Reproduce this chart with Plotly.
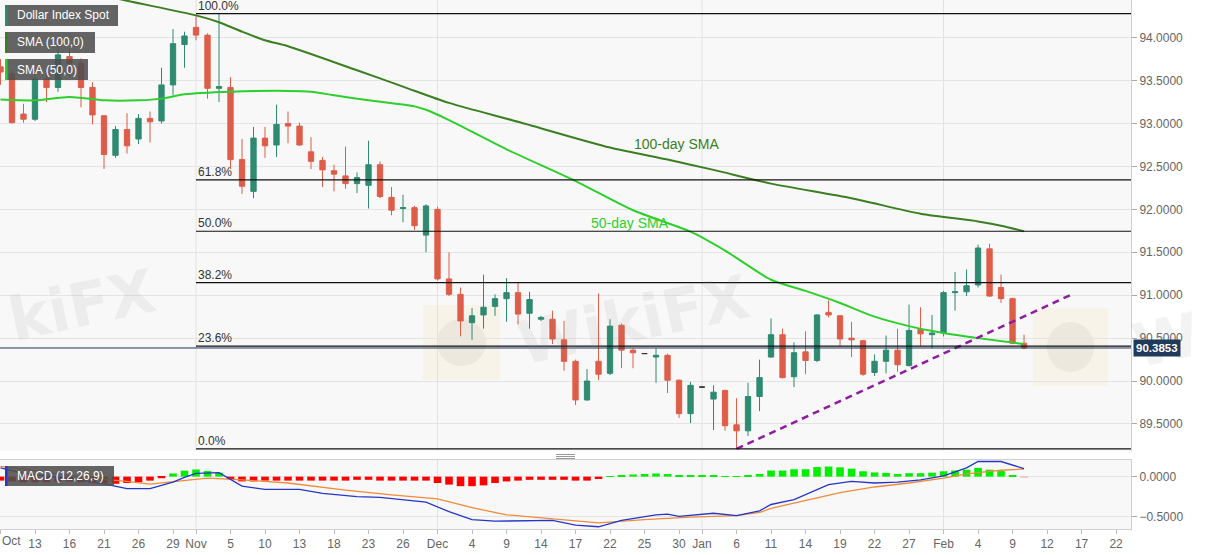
import numpy as np
import pandas as pd
import plotly.graph_objects as go

# ---------------- data ----------------
dates = pd.bdate_range("2020-10-08", "2021-02-10").strftime("%Y-%m-%d").tolist()

opens = [93.66, 93.58, 93.11, 93.05, 93.52, 93.42, 93.78, 93.70, 93.42, 93.09,
         92.63, 92.93, 92.82, 93.06, 93.03, 93.45, 93.92, 94.12, 94.03, 93.41,
         93.42, 92.58, 92.21, 92.83, 92.75, 93.00, 92.97, 92.67, 92.57, 92.45,
         92.39, 92.30, 92.28, 92.52, 92.14, 92.01, 92.02, 91.70, 92.00, 91.19,
         91.01, 90.68, 90.77, 90.87, 90.96, 91.03, 90.79, 90.72, 90.72, 90.48,
         90.23, 89.78, 90.23, 90.09, 90.65, 90.36, 90.32, 90.28, 90.30, 90.01,
         89.62, 89.93, 89.79, 89.89, 89.49, 89.42, 89.82, 90.28, 90.54, 90.05,
         90.34, 90.24, 90.80, 90.76, 90.50, 90.47, 90.10, 90.23, 90.36, 90.18,
         90.60, 90.54, 90.56, 91.03, 91.04, 91.12, 91.54, 91.09, 90.96, 90.44]
highs = [93.75, 93.62, 93.23, 93.58, 93.60, 93.90, 93.88, 93.76, 93.48, 93.10,
         92.97, 93.12, 93.11, 93.14, 93.65, 94.10, 94.07, 94.25, 94.05, 94.29,
         93.54, 92.82, 92.96, 92.96, 93.22, 93.14, 93.01, 92.84, 92.61, 92.52,
         92.73, 92.43, 92.80, 92.56, 92.26, 92.17, 92.04, 92.06, 92.03, 91.50,
         91.09, 90.85, 91.24, 91.01, 91.20, 91.15, 91.04, 90.76, 90.82, 90.70,
         90.25, 90.14, 91.02, 90.72, 90.67, 90.38, 90.32, 90.38, 90.32, 90.02,
         89.99, 89.93, 89.95, 89.90, 89.80, 89.98, 90.25, 90.73, 90.61, 90.45,
         90.58, 90.78, 90.94, 90.77, 90.69, 90.48, 90.31, 90.53, 90.61, 90.89,
         90.86, 90.77, 91.05, 91.27, 91.30, 91.59, 91.60, 91.24, 90.97, 90.54]
lows = [93.45, 93.00, 93.01, 93.03, 93.25, 93.37, 93.54, 93.19, 92.99, 92.47,
        92.60, 92.65, 92.76, 92.78, 93.00, 93.33, 93.65, 93.97, 93.29, 93.25,
        92.47, 92.18, 92.13, 92.60, 92.61, 92.77, 92.74, 92.47, 92.26, 92.21,
        92.24, 92.19, 92.01, 92.13, 91.93, 91.85, 91.76, 91.50, 91.17, 90.99,
        90.52, 90.48, 90.61, 90.76, 90.69, 90.66, 90.61, 90.70, 90.43, 90.12,
        89.72, 89.77, 90.01, 90.07, 90.15, 90.15, 90.32, 89.98, 89.86, 89.57,
        89.51, 89.93, 89.43, 89.42, 89.21, 89.36, 89.65, 90.27, 90.03, 89.93,
        90.08, 90.22, 90.74, 90.41, 90.28, 90.06, 90.06, 90.09, 90.11, 90.17,
        90.41, 90.38, 90.52, 90.82, 90.99, 91.09, 90.98, 90.91, 90.43, 90.37]
closes = [93.60, 93.01, 93.05, 93.52, 93.42, 93.80, 93.70, 93.42, 93.10, 92.64,
          92.93, 92.74, 93.06, 93.02, 93.45, 93.93, 94.02, 94.03, 93.41, 93.43,
          92.58, 92.27, 92.83, 92.74, 92.99, 92.97, 92.75, 92.56, 92.46, 92.41,
          92.30, 92.37, 92.52, 92.15, 91.99, 92.02, 91.81, 92.04, 91.19, 91.01,
          90.70, 90.76, 90.86, 90.96, 91.03, 90.78, 90.95, 90.74, 90.49, 90.23,
          89.78, 90.00, 90.08, 90.64, 90.36, 90.33, 90.32, 90.30, 90.01, 89.62,
          89.95, 89.93, 89.87, 89.48, 89.42, 89.82, 90.04, 90.54, 90.04, 90.33,
          90.24, 90.77, 90.77, 90.49, 90.48, 90.08, 90.23, 90.36, 90.19, 90.59,
          90.55, 90.56, 91.03, 91.04, 91.11, 91.55, 90.99, 90.96, 90.44, 90.3853]

sma100_dates = ["2020-10-08", "2020-10-16", "2020-10-23", "2020-11-02", "2020-11-04",
                "2020-11-06", "2020-11-10", "2020-11-12", "2020-11-20", "2020-11-26",
                "2020-12-02", "2020-12-10", "2020-12-22", "2020-12-29", "2021-01-04",
                "2021-01-11", "2021-01-20", "2021-01-28", "2021-02-04", "2021-02-08",
                "2021-02-10"]
sma100_vals = [94.73, 94.58, 94.43, 94.26, 94.18, 94.07, 93.97, 93.90, 93.62, 93.43,
               93.24, 93.02, 92.72, 92.58, 92.46, 92.30, 92.13, 91.95, 91.86, 91.81,
               91.745]

sma50_dates = ["2020-10-08", "2020-10-13", "2020-10-16", "2020-10-21", "2020-10-26",
               "2020-10-28", "2020-10-30", "2020-11-05", "2020-11-12", "2020-11-16",
               "2020-11-18", "2020-11-23", "2020-11-27", "2020-11-30", "2020-12-02",
               "2020-12-09", "2020-12-17", "2020-12-24", "2020-12-31", "2021-01-05",
               "2021-01-11", "2021-01-14", "2021-01-19", "2021-01-22", "2021-01-27",
               "2021-02-01", "2021-02-04", "2021-02-10"]
sma50_vals = [93.28, 93.27, 93.31, 93.27, 93.27, 93.29, 93.34, 93.37, 93.38, 93.37,
              93.33, 93.27, 93.20, 93.16, 93.04, 92.70, 92.33, 91.99, 91.74, 91.52,
              91.18, 91.05, 90.91, 90.75, 90.64, 90.56, 90.50, 90.43]

trend_dates = ["2021-01-06", "2021-02-16"]
trend_vals = [89.21, 91.00]

fib_start = "2020-11-02"
fib_high = 94.28
fib_low = 89.21
fib_ratios = [1.0, 0.618, 0.5, 0.382, 0.236, 0.0]
fib_labels = ["100.0%", "61.8%", "50.0%", "38.2%", "23.6%", "0.0%"]

macd_dates = ["2020-10-08", "2020-10-12", "2020-10-14", "2020-10-16", "2020-10-21",
              "2020-10-23", "2020-10-27", "2020-10-29", "2020-10-30", "2020-11-02",
              "2020-11-04", "2020-11-06", "2020-11-10", "2020-11-13", "2020-11-17",
              "2020-11-20", "2020-11-24", "2020-11-26", "2020-11-30", "2020-12-02",
              "2020-12-04", "2020-12-08", "2020-12-11", "2020-12-15", "2020-12-17",
              "2020-12-21", "2020-12-23", "2020-12-28", "2020-12-29", "2020-12-30",
              "2021-01-04", "2021-01-06", "2021-01-08", "2021-01-11", "2021-01-13",
              "2021-01-14", "2021-01-18", "2021-01-20", "2021-01-22", "2021-01-26",
              "2021-01-28", "2021-02-01", "2021-02-03", "2021-02-04", "2021-02-08",
              "2021-02-10"]
macd_vals = [0.11, 0.04, 0.01, -0.02, -0.09, -0.15, -0.15, -0.07, -0.01, 0.04,
             0.05, -0.12, -0.16, -0.16, -0.21, -0.25, -0.26, -0.29, -0.32, -0.44,
             -0.54, -0.56, -0.55, -0.55, -0.61, -0.63, -0.55, -0.48, -0.47, -0.50,
             -0.46, -0.49, -0.43, -0.35, -0.29, -0.23, -0.10, -0.06, -0.08, -0.07,
             -0.04, 0.01, 0.11, 0.19, 0.19, 0.10]

signal_dates = ["2020-10-08", "2020-10-14", "2020-10-19", "2020-10-23", "2020-10-27",
                "2020-10-30", "2020-11-03", "2020-11-06", "2020-11-12", "2020-11-19",
                "2020-11-25", "2020-12-01", "2020-12-04", "2020-12-09", "2020-12-15",
                "2020-12-21", "2020-12-25", "2020-12-31", "2021-01-06", "2021-01-08",
                "2021-01-11", "2021-01-14", "2021-01-19", "2021-01-22", "2021-01-27",
                "2021-02-01", "2021-02-03", "2021-02-04", "2021-02-08", "2021-02-10"]
signal_vals = [0.13, 0.06, -0.01, -0.06, -0.095, -0.05, -0.02, -0.04, -0.08, -0.17,
               -0.23, -0.28, -0.39, -0.48, -0.53, -0.58, -0.54, -0.51, -0.49, -0.45,
               -0.40, -0.30, -0.20, -0.13, -0.08, -0.02, 0.035, 0.05, 0.08, 0.096]

hist_vals = [-0.05, -0.06, -0.07, -0.07, -0.07, -0.06, -0.06, -0.07, -0.08, -0.08,
             -0.09, -0.08, -0.07, -0.05, -0.02, 0.04, 0.075, 0.09, 0.07, 0.05,
             -0.03, -0.06, -0.06, -0.05, -0.05, -0.05, -0.05, -0.05, -0.05, -0.05,
             -0.05, -0.04, -0.04, -0.05, -0.05, -0.05, -0.05, -0.05, -0.08, -0.10,
             -0.12, -0.12, -0.11, -0.08, -0.06, -0.05, -0.04, -0.04, -0.04, -0.04,
             -0.05, -0.05, -0.03, 0.005, 0.02, 0.027, 0.033, 0.04, 0.033, 0.013,
             0.013, 0.02, 0.02, 0.007, 0.003, 0.013, 0.033, 0.077, 0.077, 0.093,
             0.093, 0.12, 0.127, 0.117, 0.10, 0.067, 0.053, 0.047, 0.033, 0.043,
             0.043, 0.05, 0.067, 0.077, 0.087, 0.11, 0.087, 0.07, 0.02, -0.013]

tick_dates = ["2020-10-08", "2020-10-13", "2020-10-16", "2020-10-21", "2020-10-26",
              "2020-10-29", "2020-11-02", "2020-11-05", "2020-11-10", "2020-11-13",
              "2020-11-18", "2020-11-23", "2020-11-26", "2020-12-01", "2020-12-04",
              "2020-12-09", "2020-12-14", "2020-12-17", "2020-12-22", "2020-12-25",
              "2020-12-30", "2021-01-01", "2021-01-06", "2021-01-11", "2021-01-14",
              "2021-01-19", "2021-01-22", "2021-01-27", "2021-02-01", "2021-02-04",
              "2021-02-09", "2021-02-12", "2021-02-17", "2021-02-22"]
tick_text = ["", "13", "16", "21", "26", "29", "Nov", "5", "10", "13", "18", "23", "26",
             "Dec", "4", "9", "14", "17", "22", "25", "30", "Jan", "6", "11", "14", "19",
             "22", "27", "Feb", "4", "9", "12", "17", "22"]
month_starts = ["2020-11-02", "2020-12-01", "2021-01-01", "2021-02-01"]

price_ticks = [89.5, 90.0, 90.5, 91.0, 91.5, 92.0, 92.5, 93.0, 93.5, 94.0]
macd_ticks = [-0.5, 0.0]

# ---------------- helpers ----------------
T0 = np.datetime64(dates[0])


def pos(ds):
    return np.busday_count(T0, np.array(ds, dtype="datetime64[D]"))


W, H = 1207, 555
ML, MR, MT, MB = 0, 76, 0, 26
PW, PH = W - ML - MR, H - MT - MB


def pxx(p):
    return p / PW


def pxy(p):
    return 1 - p / PH


UP = "#2e8a70"
DN = "#de5d49"
DG = "#3a7f22"
LG = "#2ccf2c"
FONT = "Liberation Sans, Arial, sans-serif"

x = pos(dates)
o = np.array(opens); h = np.array(highs); l = np.array(lows); c = np.array(closes)
flat = (o == c) & (h == l)
norm = ~flat

X_RANGE = [-0.043, 98.3]

fig = go.Figure()

fig.add_trace(go.Candlestick(
    x=x[norm], open=o[norm], high=h[norm], low=l[norm], close=c[norm],
    increasing=dict(line=dict(color=UP, width=1), fillcolor=UP),
    decreasing=dict(line=dict(color=DN, width=1), fillcolor=DN),
    whiskerwidth=0, showlegend=False, hoverinfo="skip", xaxis="x", yaxis="y"))
fig.add_trace(go.Candlestick(
    x=x[flat], open=o[flat], high=h[flat] + 0.004, low=l[flat] - 0.004, close=c[flat],
    increasing=dict(line=dict(color="#333333", width=1), fillcolor="#333333"),
    decreasing=dict(line=dict(color="#333333", width=1), fillcolor="#333333"),
    whiskerwidth=0, showlegend=False, hoverinfo="skip", xaxis="x", yaxis="y"))

fig.add_trace(go.Scatter(x=pos(sma100_dates), y=sma100_vals, mode="lines",
                         line=dict(color=DG, width=2, shape="spline", smoothing=0.7),
                         showlegend=False, hoverinfo="skip", xaxis="x", yaxis="y"))
fig.add_trace(go.Scatter(x=pos(sma50_dates), y=sma50_vals, mode="lines",
                         line=dict(color=LG, width=2, shape="spline", smoothing=0.7),
                         showlegend=False, hoverinfo="skip", xaxis="x", yaxis="y"))
fig.add_trace(go.Scatter(x=pos(trend_dates), y=trend_vals, mode="lines",
                         line=dict(color="#8f1d9f", width=2.5, dash="7px,5px"),
                         showlegend=False, hoverinfo="skip", xaxis="x", yaxis="y"))

# MACD panel
hist = np.array(hist_vals)
hcolors = ["#00ee00" if v >= 0 else "#ff0000" for v in hist]
hcolors[-1] = "rgba(255,0,0,0.3)"
fig.add_trace(go.Bar(x=x, y=hist, marker=dict(color=hcolors, line=dict(width=0)),
                     width=0.66, showlegend=False, hoverinfo="skip",
                     xaxis="x2", yaxis="y2"))
fig.add_trace(go.Scatter(x=pos(signal_dates), y=signal_vals, mode="lines",
                         line=dict(color="#f08a3c", width=1.3),
                         showlegend=False, hoverinfo="skip", xaxis="x2", yaxis="y2"))
fig.add_trace(go.Scatter(x=pos(macd_dates), y=macd_vals, mode="lines",
                         line=dict(color="#2637c8", width=1.3),
                         showlegend=False, hoverinfo="skip", xaxis="x2", yaxis="y2"))

shapes = []
annotations = []

# watermarks (faint)
WM = "rgba(150,140,140,0.10)"
annotations.append(dict(xref="paper", yref="paper", x=pxx(0), y=pxy(305),
                        text="<b>kiFX</b>", showarrow=False, textangle=-12,
                        xanchor="left", yanchor="middle",
                        font=dict(family="DejaVu Sans", size=60, color=WM)))
annotations.append(dict(xref="paper", yref="paper", x=pxx(633), y=pxy(320),
                        text="<b>WikiFX</b>", showarrow=False, textangle=-12,
                        font=dict(family="DejaVu Sans", size=60, color=WM)))
annotations.append(dict(xref="paper", yref="paper", x=pxx(1124), y=pxy(340),
                        text="<b>W</b>", showarrow=False, textangle=-12,
                        xanchor="left", yanchor="middle",
                        font=dict(family="DejaVu Sans", size=60, color=WM)))
for (a, b, cc, d) in [(423, 305, 500, 380), (1033, 308, 1108, 386)]:
    shapes.append(dict(type="rect", xref="paper", yref="paper",
                       x0=pxx(a), x1=pxx(cc), y0=pxy(d), y1=pxy(b),
                       fillcolor="rgba(250,215,120,0.12)", line=dict(width=0),
                       layer="below"))
    shapes.append(dict(type="circle", xref="paper", yref="paper",
                       x0=pxx(a + 14), x1=pxx(cc - 14), y0=pxy(d - 14), y1=pxy(b + 14),
                       fillcolor="rgba(150,140,140,0.10)", line=dict(width=0),
                       layer="below"))

# month gridlines
for d in month_starts:
    xv = float(pos([d])[0])
    for xr, yr in [("x", "y domain"), ("x2", "y2 domain")]:
        shapes.append(dict(type="line", xref=xr, yref=yr,
                           x0=xv, x1=xv, y0=0, y1=1,
                           line=dict(color="#e2e2e2", width=1), layer="below"))

# fibonacci
fs = float(pos([fib_start])[0])
for r, lab in zip(fib_ratios, fib_labels):
    lev = fib_low + r * (fib_high - fib_low)
    shapes.append(dict(type="line", xref="x", yref="y", x0=fs, x1=X_RANGE[1],
                       y0=lev, y1=lev, line=dict(color="#111111", width=1.2)))
    annotations.append(dict(xref="x", yref="y", x=fs, y=lev, text=lab,
                            showarrow=False, xanchor="left", yanchor="bottom",
                            yshift=-1, font=dict(family=FONT, size=12, color="#333333")))

# current price line and tag
last = closes[-1]
shapes.append(dict(type="line", xref="x domain", yref="y", x0=0, x1=1, y0=last, y1=last,
                   line=dict(color="#1d3557", width=1)))
annotations.append(dict(xref="paper", yref="y", x=1, y=last, text="<b>%.4f</b>" % last,
                        showarrow=False, xanchor="left", xshift=2,
                        bgcolor="#1f3a5a", borderpad=2,
                        font=dict(family=FONT, size=11.5, color="white")))

# SMA labels
annotations.append(dict(xref="x", yref="y", x=58.8, y=92.76, text="100-day SMA",
                        showarrow=False, font=dict(family=FONT, size=14, color=DG)))
annotations.append(dict(xref="x", yref="y", x=54.7, y=91.84, text="50-day SMA",
                        showarrow=False, font=dict(family=FONT, size=14, color=LG)))

# legend boxes
boxes = [("Dollar Index Spot", 5, 118, 5, 26, "#2e8a70"),
         ("SMA (100,0)", 5, 95, 32, 53, DG),
         ("SMA (50,0)", 5, 88, 59, 80, LG),
         ("MACD (12,26,9)", 5, 114, 466, 486, "#2637c8")]
for txt, x0, x1, y0, y1, col in boxes:
    shapes.append(dict(type="rect", xref="paper", yref="paper",
                       x0=pxx(x0), x1=pxx(x1), y0=pxy(y1), y1=pxy(y0),
                       fillcolor="rgba(78,78,78,0.88)", line=dict(width=0)))
    shapes.append(dict(type="rect", xref="paper", yref="paper",
                       x0=pxx(x0), x1=pxx(x0 + 2.5), y0=pxy(y1), y1=pxy(y0),
                       fillcolor=col, line=dict(width=0)))
    annotations.append(dict(xref="paper", yref="paper", x=pxx(x0 + 10),
                            y=pxy((y0 + y1) / 2), text=txt, showarrow=False,
                            xanchor="left", yanchor="middle",
                            font=dict(family=FONT, size=12, color="white")))

# pane separator handle
for yy in [454.5, 456.5, 458.5]:
    shapes.append(dict(type="line", xref="paper", yref="paper",
                       x0=pxx(556), x1=pxx(575), y0=pxy(yy), y1=pxy(yy),
                       line=dict(color="#999999", width=1)))

# "Oct" first label
annotations.append(dict(xref="paper", yref="paper", x=0, y=pxy(541), text="Oct",
                        showarrow=False, xanchor="left", yanchor="middle",
                        font=dict(family=FONT, size=12, color="#666666")))

axis_common = dict(zeroline=False, tickfont=dict(family=FONT, size=12, color="#666666"))

fig.update_layout(
    width=W, height=H, autosize=False,
    margin=dict(l=ML, r=MR, t=MT, b=MB, pad=0),
    paper_bgcolor="white", plot_bgcolor="#f8f8f8",
    showlegend=False,
    xaxis=dict(domain=[0, 1], range=X_RANGE, anchor="y", showticklabels=False,
               showgrid=False, ticks="", rangeslider=dict(visible=False),
               fixedrange=True, **axis_common),
    xaxis2=dict(domain=[0, 1], range=X_RANGE, anchor="y2",
                tickvals=pos(tick_dates), ticktext=tick_text,
                ticks="outside", ticklen=4, tickcolor="#bbbbbb",
                showline=True, linecolor="#d0d0d0", mirror=True,
                showgrid=False, **axis_common),
    yaxis=dict(domain=[1 - 450.5 / PH, 1], range=[89.191, 94.439], side="right",
               anchor="x", tickvals=price_ticks, tickformat=".4f",
               ticks="outside", ticklen=5, tickcolor="#aaaaaa",
               showline=True, linecolor="#cfcfcf", gridcolor="#e4e4e4", **axis_common),
    yaxis2=dict(domain=[0, 1 - 460 / PH], range=[-0.658, 0.209], side="right",
                anchor="x2", tickvals=macd_ticks, tickformat=".4f",
                ticks="outside", ticklen=5, tickcolor="#aaaaaa",
                showline=True, linecolor="#cfcfcf", gridcolor="#e4e4e4", **axis_common),
    boxgap=0.34,
    shapes=shapes, annotations=annotations,
)

fig.write_html("out.html",
               config={"displayModeBar": False},
               post_script="document.body.style.margin='0px';"
                           "document.body.style.padding='0px';"
                           "document.body.style.overflow='hidden';")
